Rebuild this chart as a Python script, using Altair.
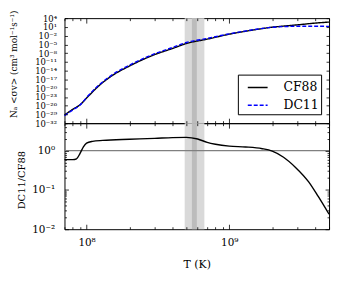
import json
import altair as alt
import pandas as pd

# ---------------- data ----------------
# temperature grid (K) for the two reaction-rate curves
T_rate = [7e7, 8e7, 9e7, 1e8, 1.2e8, 1.5e8, 2e8, 3e8, 4e8, 5e8, 7e8, 1e9,
          1.5e9, 2e9, 2.5e9, 3e9, 4e9, 5e9]
# N_A <sigma v>  (cm^3 mol^-1 s^-1)
cf88_rate = [6.3e-30, 5.6e-28, 2.0e-26, 4.0e-24, 3.2e-20, 1.6e-16, 4.0e-13,
             3.2e-9, 4.0e-7, 2.0e-5, 6.3e-4, 3.2e-2, 1.0, 7.9, 22.0, 50.0,
             200.0, 450.0]
dc11_rate = [3.7e-30, 3.3e-28, 1.6e-26, 6.3e-24, 5.5e-20, 3.0e-16, 8.0e-13,
             6.5e-9, 8.6e-7, 4.4e-5, 1.1e-3, 4.2e-2, 1.2, 7.5, 13.5, 16.5,
             17.0, 15.0]

# ratio DC11/CF88
T_ratio = [7e7, 8e7, 8.5e7, 9e7, 9.5e7, 1e8, 1.1e8, 1.3e8, 2e8, 3e8, 4e8,
           5e8, 6e8, 7e8, 8e8, 1e9, 1.3e9, 1.7e9, 2e9, 2.4e9, 2.9e9, 3.6e9,
           4.2e9, 5e9]
ratio = [0.59, 0.59, 0.62, 0.85, 1.25, 1.55, 1.72, 1.82, 1.95, 2.05, 2.15,
         2.18, 1.98, 1.62, 1.45, 1.3, 1.24, 1.12, 0.97, 0.68, 0.38, 0.16,
         0.068, 0.024]
ref_level = [1.0]

# shaded temperature windows
band_lo = [4.87e8, 5.47e8]
band_hi = [6.69e8, 5.92e8]
band_kind = ["outer", "inner"]

series_names = ["CF88", "DC11"]

# axis tick values
x_major = [1e8, 1e9]
x_minor = [7e7, 8e7, 9e7, 2e8, 3e8, 4e8, 5e8, 6e8, 7e8, 8e8, 9e8,
           2e9, 3e9, 4e9, 5e9]
top_exps = list(range(-32, 5, 3))
top_y = [10.0 ** e for e in top_exps]
bot_exps = [-2, -1, 0]
bot_y_major = [10.0 ** e for e in bot_exps]
bot_y_minor = [m * 10.0 ** e for e in [-2, -1] for m in range(2, 10)] + [2.0, 3.0, 4.0, 5.0]

# ---------------- helpers ----------------
SUP = {"0": "⁰", "1": "¹", "2": "²", "3": "³", "4": "⁴", "5": "⁵",
       "6": "⁶", "7": "⁷", "8": "⁸", "9": "⁹", "-": "⁻"}


def pow_label(e):
    return "10" + "".join(SUP[c] for c in str(e))


def label_expr(exps, step=1):
    arr = json.dumps([pow_label(e) for e in exps], ensure_ascii=False)
    return f"{arr}[round((log(datum.value)/LN10 - ({exps[0]}))/{step})]"


FONT = "DejaVu Serif"
W = 267
H_TOP = 106
H_BOT = 107

x_scale = alt.Scale(type="log", domain=[7e7, 5e9], nice=False)
y_top_scale = alt.Scale(type="log", domain=[1e-32, 1e4], nice=False)
y_bot_scale = alt.Scale(type="log", domain=[1e-2, 5.0], nice=False)


def tick_axis(orient, offset, values, size):
    return alt.Axis(orient=orient, offset=offset, values=values, tickSize=size,
                    labels=False, domain=False, grid=False, title=None,
                    ticks=True, tickColor="black", tickWidth=0.8, zindex=2)


df_rate = pd.DataFrame({
    "T": T_rate * 2,
    "rate": cf88_rate + dc11_rate,
    "series": [series_names[0]] * len(T_rate) + [series_names[1]] * len(T_rate),
})
df_ratio = pd.DataFrame({"T": T_ratio, "ratio": ratio})
df_band = pd.DataFrame({"lo": band_lo, "hi": band_hi, "kind": band_kind})
df_ref = pd.DataFrame({"level": ref_level})


def bands():
    out = []
    for kind, col in [("outer", "#d9d9d9"), ("inner", "#bcbcbc")]:
        out.append(alt.Chart(df_band).transform_filter(
            alt.datum.kind == kind).mark_rect(color=col).encode(
            x=alt.X("lo:Q", scale=x_scale, axis=None),
            x2="hi:Q"))
    return out


def tick_layers(df, yfield, yscale, H, y_major, y_minor):
    layers = []
    specs = [
        (tick_axis("top", -H, x_major, 5), tick_axis("right", -W, y_major, 4 if y_minor else 3)),
        (tick_axis("bottom", -H, x_major, 5), tick_axis("left", -W, y_major, 4 if y_minor else 3)),
        (tick_axis("top", -H, x_minor, 2.5), tick_axis("right", -W, y_minor, 2) if y_minor else None),
        (tick_axis("bottom", -H, x_minor, 2.5), tick_axis("left", -W, y_minor, 2) if y_minor else None),
    ]
    for xa, ya in specs:
        layers.append(alt.Chart(df).mark_point(opacity=0).encode(
            x=alt.X("T:Q", scale=x_scale, axis=xa),
            y=alt.Y(f"{yfield}:Q", scale=yscale, axis=ya),
        ))
    return layers


# ---------------- top panel ----------------
leg = dict(orient="none", legendX=175, legendY=57, title=None,
           symbolType="stroke", symbolSize=400, symbolStrokeWidth=1.5,
           labelFont=FONT, labelFontSize=12.5, labelOffset=15, padding=2,
           symbolOffset=7, strokeColor="black", fillColor="white",
           rowPadding=0, labelExpr="datum.label + '   '")

lines = alt.Chart(df_rate).mark_line(interpolate="monotone", strokeWidth=1.4).encode(
    x=alt.X("T:Q", scale=x_scale, axis=None),
    y=alt.Y("rate:Q", scale=y_top_scale,
            axis=alt.Axis(orient="left", values=top_y, labelExpr=label_expr(top_exps, 3),
                          ticks=False, tickSize=0, domain=False, labelOverlap=False,
                          labelPadding=8, labelFontSize=8.5, labelFont=FONT,
                          title="Nₐ <σv> (cm³ mol⁻¹s⁻¹)", titleFont=FONT,
                          titleFontSize=9, titleFontWeight="normal",
                          titleX=-51, titleY=46, titleBaseline="middle")),
    color=alt.Color("series:N", scale=alt.Scale(domain=series_names, range=["black", "#0000ff"]),
                    legend=alt.Legend(**leg)),
    strokeDash=alt.StrokeDash("series:N", scale=alt.Scale(domain=series_names,
                                                          range=[[1, 0], [4, 2]]),
                              legend=alt.Legend(**leg)),
)

top = alt.layer(*bands(), lines,
                *tick_layers(df_rate, "rate", y_top_scale, H_TOP, top_y, None)
                ).resolve_axis(x="independent", y="independent").properties(width=W, height=H_TOP)

# ---------------- bottom panel ----------------
ref_rule = alt.Chart(df_ref).mark_rule(color="#808080", strokeWidth=1.5).encode(
    y=alt.Y("level:Q", scale=y_bot_scale, axis=None))

ratio_line = alt.Chart(df_ratio).mark_line(interpolate="monotone", color="black",
                                           strokeWidth=1.4).encode(
    x=alt.X("T:Q", scale=x_scale,
            axis=alt.Axis(orient="bottom", values=x_major, labelExpr=label_expr([8, 9]),
                          ticks=False, tickSize=0, domain=False, labelPadding=8,
                          labelFontSize=10.5, labelFont=FONT, labelFlush=False,
                          title="T (K)", titleFont=FONT, titleFontSize=11,
                          titleFontWeight="normal", titleY=36, titleBaseline="middle")),
    y=alt.Y("ratio:Q", scale=y_bot_scale,
            axis=alt.Axis(orient="left", values=bot_y_major, labelExpr=label_expr(bot_exps),
                          ticks=False, tickSize=0, domain=False, labelOverlap=False,
                          labelPadding=10, labelFontSize=10.5, labelFont=FONT,
                          title="DC11/CF88", titleFont=FONT, titleFontSize=10,
                          titleFontWeight="normal", titleX=-43, titleY=57,
                          titleBaseline="middle")),
)

bottom = alt.layer(*bands(), ref_rule, ratio_line,
                   *tick_layers(df_ratio, "ratio", y_bot_scale, H_BOT, bot_y_major, bot_y_minor)
                   ).resolve_axis(x="independent", y="independent").properties(width=W, height=H_BOT)

chart = alt.vconcat(top, bottom, spacing=0, bounds="flush").properties(
    padding={"left": 1, "top": 0, "right": 0, "bottom": 4}
).configure_view(stroke="black", strokeWidth=1).configure_axis(grid=False).configure_legend(
    strokeColor="black", fillColor="white", strokeWidth=1)

chart.save("out.html", embed_options={"renderer": "svg", "actions": False})
